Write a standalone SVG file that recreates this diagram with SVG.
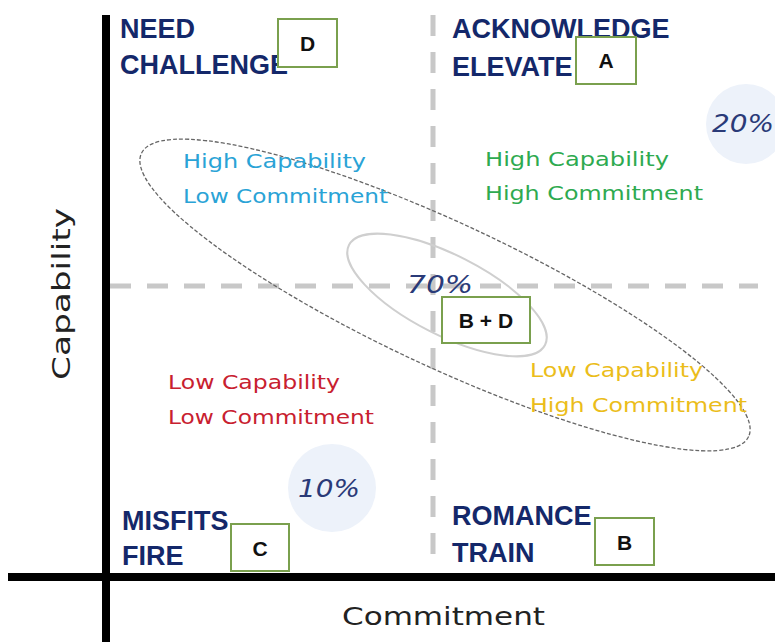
<svg xmlns="http://www.w3.org/2000/svg" width="775" height="642" viewBox="0 0 775 642">
<style>
.title{font-family:"Liberation Sans",Arial,sans-serif;font-weight:bold;font-size:27px;fill:#14286a}
.hand{font-family:"DejaVu Sans","Noto Sans",sans-serif;font-size:19px}
.pct{font-family:"DejaVu Sans","Noto Sans",sans-serif;font-size:24px;font-style:italic;fill:#2a3a78}
.axis{font-family:"DejaVu Sans","Noto Sans",sans-serif;font-size:24px;fill:#222}
.box{fill:#fff;stroke:#7aa04e;stroke-width:2}
.boxlbl{font-family:"Liberation Sans",Arial,sans-serif;font-weight:bold;font-size:21px;fill:#111;text-anchor:middle}
.dash{stroke:#c8c8c8;stroke-width:5;stroke-dasharray:21 16;fill:none}
.bubble{fill:#edf2fa}
</style>
<rect width="775" height="642" fill="#fff"/>
<g id="grid">
<line class="dash" x1="433" y1="15" x2="433" y2="556"/>
<line class="dash" x1="110" y1="286" x2="758" y2="286"/>
</g>
<g id="bubbles">
<circle class="bubble" cx="746" cy="124" r="40"/>
<circle class="bubble" cx="332" cy="488" r="44"/>
</g>
<g id="connectors">
<ellipse cx="445" cy="295" rx="335" ry="72" transform="rotate(25 445 295)" fill="none" stroke="#666" stroke-width="1.3" stroke-dasharray="4 2"/>
<ellipse cx="447" cy="295" rx="110" ry="40" transform="rotate(27 447 295)" fill="none" stroke="#cfcfcf" stroke-width="2"/>
</g>
<g id="axes">
<line x1="106" y1="15" x2="106" y2="642" stroke="#000" stroke-width="8"/>
<line x1="8" y1="577" x2="775" y2="577" stroke="#000" stroke-width="8"/>
<text class="axis" transform="translate(70 294) rotate(-90)" text-anchor="middle" textLength="172" lengthAdjust="spacingAndGlyphs">Capability</text>
<text class="axis" x="342" y="625" textLength="203" lengthAdjust="spacingAndGlyphs">Commitment</text>
</g>
<g id="q-need">
<text class="title" x="120" y="38">NEED</text>
<text class="title" x="120" y="74">CHALLENGE</text>
<rect class="box" x="278" y="19" width="59" height="48"/>
<text class="boxlbl" x="307.5" y="51">D</text>
</g>
<g id="q-ack">
<text class="title" x="452" y="38">ACKNOWLEDGE</text>
<text class="title" x="452" y="76">ELEVATE</text>
<rect class="box" x="576" y="37" width="60" height="47"/>
<text class="boxlbl" x="606" y="68">A</text>
</g>
<g id="q-misfits">
<text class="title" x="122" y="530">MISFITS</text>
<text class="title" x="122" y="565">FIRE</text>
<rect class="box" x="231" y="524" width="58" height="47"/>
<text class="boxlbl" x="260" y="556">C</text>
</g>
<g id="q-romance">
<text class="title" x="452" y="525">ROMANCE</text>
<text class="title" x="452" y="562">TRAIN</text>
<rect class="box" x="595" y="518" width="59" height="47"/>
<text class="boxlbl" x="624.5" y="550">B</text>
</g>
<g id="node-bd">
<rect class="box" x="442" y="297" width="88" height="46"/>
<text class="boxlbl" x="486" y="328">B + D</text>
</g>
<g id="labels">
<text class="hand" x="183" y="168" fill="#2aa3d6" textLength="183" lengthAdjust="spacingAndGlyphs">High Capability</text>
<text class="hand" x="183" y="203" fill="#2aa3d6" textLength="205" lengthAdjust="spacingAndGlyphs">Low Commitment</text>
<text class="hand" x="485" y="166" fill="#2eaa50" textLength="184" lengthAdjust="spacingAndGlyphs">High Capability</text>
<text class="hand" x="485" y="200" fill="#2eaa50" textLength="218" lengthAdjust="spacingAndGlyphs">High Commitment</text>
<text class="hand" x="168" y="389" fill="#c8202f" textLength="172" lengthAdjust="spacingAndGlyphs">Low Capability</text>
<text class="hand" x="168" y="424" fill="#c8202f" textLength="206" lengthAdjust="spacingAndGlyphs">Low Commitment</text>
<text class="hand" x="530" y="377" fill="#ebbd1a" textLength="173" lengthAdjust="spacingAndGlyphs">Low Capability</text>
<text class="hand" x="530" y="412" fill="#ebbd1a" textLength="217" lengthAdjust="spacingAndGlyphs">High Commitment</text>
<text class="pct" x="407" y="293" textLength="66" lengthAdjust="spacingAndGlyphs">70%</text>
<text class="pct" x="712" y="132" textLength="62" lengthAdjust="spacingAndGlyphs">20%</text>
<text class="pct" x="298" y="497" textLength="62" lengthAdjust="spacingAndGlyphs">10%</text>
</g>
</svg>
